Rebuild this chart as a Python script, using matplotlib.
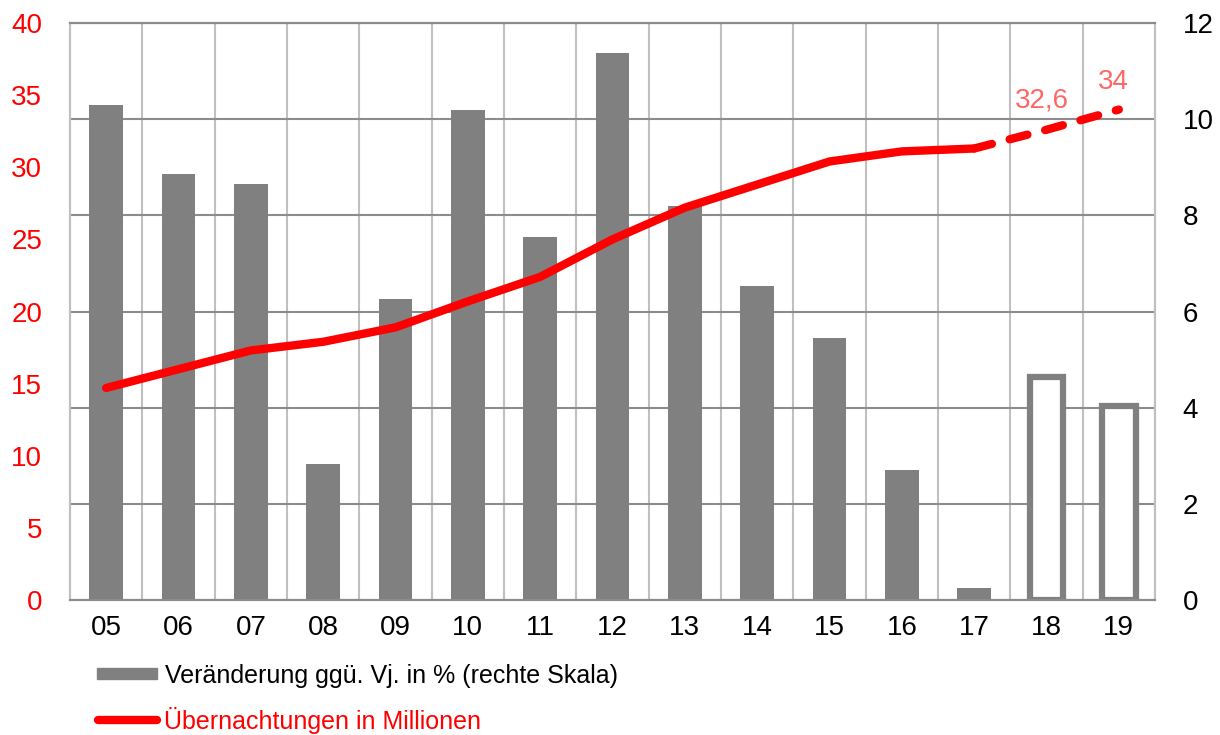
import matplotlib
matplotlib.use("Agg")
import matplotlib.pyplot as plt
from matplotlib.patches import Rectangle
from matplotlib.lines import Line2D

plt.rcParams['font.family'] = ['Liberation Sans', 'DejaVu Sans']

# data
years = ['05', '06', '07', '08', '09', '10', '11', '12', '13', '14', '15', '16', '17', '18', '19']
veraenderung = [10.3, 8.85, 8.65, 2.83, 6.25, 10.2, 7.55, 11.38, 8.2, 6.54, 5.44, 2.7, 0.25, 4.64, 4.03]
uebernachtungen = [14.7, 16.0, 17.3, 17.9, 18.9, 20.7, 22.4, 25.0, 27.2, 28.8, 30.4, 31.1, 31.3, 32.6, 34.0]
n_actual = 13  # 05..17 are actual values, 18/19 forecast
label_bars = 'Veränderung ggü. Vj. in % (rechte Skala)'
label_line = 'Übernachtungen in Millionen'

W, H = 1220, 735
fig = plt.figure(figsize=(W / 100, H / 100), dpi=100)
ax = fig.add_axes([70 / W, (H - 600) / H, (1155 - 70) / W, (600 - 23) / H])
ax2 = ax.twinx()

GRID_DARK = '#8c8c8c'
GRID_LIGHT = '#c0c0c0'
BAR = '#808080'

x = list(range(len(years)))

# bars on the right scale
ax2.bar(x[:n_actual], veraenderung[:n_actual], width=0.47, color=BAR, zorder=2)
ax2.bar(x[n_actual:], veraenderung[n_actual:], width=0.47, facecolor='white',
        edgecolor=BAR, linewidth=4.5, zorder=2)
ax2.set_ylim(0, 12)
ax2.set_yticks(range(0, 13, 2))
ax2.yaxis.grid(True, color=GRID_DARK, linewidth=1.5, zorder=0)
ax2.set_axisbelow(True)
for i in range(1, len(years)):
    ax2.axvline(i - 0.5, color=GRID_LIGHT, linewidth=1.5, zorder=0.5)

# line on the left scale
ax.set_zorder(ax2.get_zorder() + 1)
ax.patch.set_visible(False)
ax.plot(x[:n_actual], uebernachtungen[:n_actual], color='red', linewidth=6,
        solid_capstyle='round', solid_joinstyle='round', zorder=3)
ax.plot(x[n_actual - 1:], uebernachtungen[n_actual - 1:], color='red', linewidth=6,
        dashes=(2.2, 2.2), dash_capstyle='round', zorder=3)
ax.set_ylim(0, 40)
ax.set_yticks(range(0, 41, 5))
ax.set_xlim(-0.5, len(years) - 0.5)
ax.set_xticks(x)
ax.set_xticklabels(years)

ax.annotate('32,6', (x[13], uebernachtungen[13]), xytext=(-3, 21), textcoords='offset points',
            ha='center', va='center', fontsize=20, color='#ff6666')
ax.annotate('34', (x[14], uebernachtungen[14]), xytext=(-4, 20), textcoords='offset points',
            ha='center', va='center', fontsize=20, color='#ff6666')

ax.tick_params(axis='y', length=0, pad=20, labelsize=20, labelcolor='red')
ax.tick_params(axis='x', length=0, pad=11, labelsize=20)
ax2.tick_params(axis='y', length=0, pad=20, labelsize=20)

for a in (ax, ax2):
    a.spines['left'].set_color(GRID_LIGHT)
    a.spines['right'].set_color(GRID_LIGHT)
    a.spines['top'].set_color(GRID_DARK)
    a.spines['bottom'].set_color(GRID_DARK)
    for s in a.spines.values():
        s.set_linewidth(1.5)

# legend below the plot, drawn by hand
def px(xp, yp):
    return xp / W, (H - yp) / H

fig.patches.append(Rectangle(px(97, 679), 60 / W, 11 / H, transform=fig.transFigure,
                             color=BAR, figure=fig))
fig.lines.append(Line2D([px(98, 0)[0], px(157, 0)[0]], [px(0, 720)[1]] * 2,
                        transform=fig.transFigure, color='red', linewidth=6,
                        solid_capstyle='round', figure=fig))
fig.text(*px(165, 676), label_bars, fontsize=18, va='center', ha='left')
fig.text(*px(164, 721), label_line, fontsize=18, va='center', ha='left', color='red')

fig.savefig('out.png', dpi=100)
